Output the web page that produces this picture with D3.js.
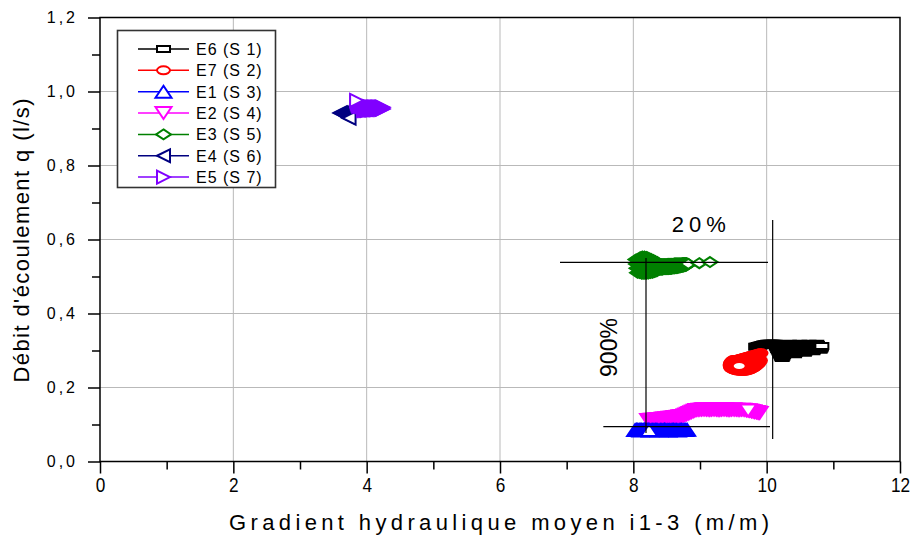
<!DOCTYPE html>
<html><head><meta charset="utf-8">
<script src="https://cdn.jsdelivr.net/npm/d3@7"></script>
<style>
body{margin:0;background:#fff}
svg{display:block;font-family:"Liberation Sans",Arial,sans-serif}
</style>
</head><body>
<svg id="chart" width="912" height="538"></svg>
<script>
// ---------- data ----------
const xTicks = [0, 2, 4, 6, 8, 10, 12];
const xMinorTicks = [1, 3, 5, 7, 9, 11];
const yTicks = [0, 0.2, 0.4, 0.6, 0.8, 1.0, 1.2];
const yMinorTicks = [0.1, 0.3, 0.5, 0.7, 0.9, 1.1];
const xTitle = "Gradient hydraulique moyen i1-3 (m/m)";
const yTitle = "Débit d'écoulement q (l/s)";
const seriesNames = ["E6 (S 1)", "E7 (S 2)", "E1 (S 3)", "E2 (S 4)", "E3 (S 5)", "E4 (S 6)", "E5 (S 7)"];

// E6 (S 1) : [gradient, débit]
const e6Points = [
 [9.835,0.310],[9.855,0.311],[9.875,0.312],[9.895,0.313],[9.915,0.314],[9.935,0.315],[9.955,0.316],[9.975,0.317],[9.995,0.317],[10.015,0.318],[10.035,0.318],[10.055,0.318],[10.075,0.318],[10.095,0.318],[10.115,0.318],
 [10.125,0.318],[10.135,0.315],[10.145,0.311],[10.154,0.308],[10.164,0.304],[10.174,0.301],[10.184,0.297],[10.194,0.294],[10.203,0.290],[10.213,0.287],[10.223,0.283],[10.233,0.280],
 [10.243,0.283],[10.252,0.287],[10.262,0.290],[10.272,0.294],[10.282,0.297],[10.292,0.301],[10.301,0.304],[10.311,0.308],[10.321,0.311],[10.331,0.315],[10.341,0.318],
 [10.350,0.315],[10.360,0.311],[10.370,0.308],[10.380,0.304],[10.390,0.301],[10.399,0.297],[10.409,0.294],[10.419,0.290],
 [10.429,0.294],[10.439,0.297],[10.448,0.301],[10.458,0.304],[10.468,0.308],[10.478,0.311],[10.488,0.315],[10.497,0.318],
 [10.507,0.315],[10.517,0.311],[10.527,0.308],[10.537,0.304],[10.546,0.301],[10.556,0.297],[10.566,0.294],
 [10.576,0.297],[10.586,0.301],[10.595,0.304],[10.605,0.308],[10.615,0.311],[10.625,0.315],[10.635,0.318],
 [10.644,0.315],[10.654,0.311],[10.664,0.308],[10.674,0.304],[10.684,0.301],[10.693,0.298],
 [10.703,0.301],[10.713,0.304],[10.723,0.308],[10.733,0.311],[10.742,0.315],[10.752,0.318],
 [10.762,0.315],[10.772,0.311],[10.782,0.308],[10.791,0.304],[10.801,0.302],
 [10.811,0.305],[10.821,0.308],[10.828,0.312]
];
// E7 (S 2)
const e7Points = [
 [9.916,0.293],[9.896,0.292],[9.876,0.291],[9.856,0.290],[9.836,0.289],[9.816,0.288],[9.796,0.287],[9.776,0.286],[9.756,0.285],[9.736,0.284],[9.716,0.283],[9.696,0.282],[9.676,0.281],[9.656,0.280],[9.636,0.279],[9.616,0.278],[9.596,0.277],[9.576,0.276],[9.556,0.275],[9.536,0.274],[9.516,0.274],[9.496,0.274],
 [9.477,0.271],[9.464,0.268],[9.456,0.265],[9.452,0.262],[9.452,0.259],[9.456,0.256],[9.464,0.253],[9.477,0.251],
 [9.497,0.249],[9.517,0.248],[9.537,0.247],[9.557,0.246],[9.577,0.246],[9.597,0.245],[9.617,0.245],[9.637,0.245],[9.657,0.245],[9.677,0.245],[9.697,0.246],[9.717,0.247],[9.737,0.248],[9.757,0.249],[9.777,0.251],[9.797,0.253],[9.817,0.255],[9.837,0.258],[9.857,0.261],[9.877,0.265],[9.894,0.269],[9.907,0.273],
 [9.887,0.277],[9.867,0.276],[9.847,0.275],[9.827,0.274],[9.807,0.273],[9.787,0.272],[9.767,0.271],[9.747,0.269],[9.727,0.268],[9.707,0.267],[9.687,0.265],[9.667,0.264],[9.647,0.263],[9.627,0.261],[9.607,0.260],[9.588,0.258]
];
// E1 (S 3)
const e1Points = [
 [8.807,0.086],[8.787,0.086],[8.767,0.085],[8.747,0.085],[8.727,0.086],[8.707,0.085],[8.687,0.085],[8.667,0.084],[8.647,0.085],[8.627,0.085],
 [8.607,0.086],[8.587,0.085],[8.567,0.085],[8.547,0.085],[8.527,0.084],[8.507,0.085],[8.487,0.085],[8.467,0.086],[8.447,0.085],[8.427,0.085],
 [8.407,0.085],[8.387,0.084],[8.367,0.085],[8.347,0.085],[8.327,0.086],[8.307,0.085],[8.287,0.085],[8.267,0.085],[8.247,0.084],[8.227,0.085],
 [8.207,0.085],[8.187,0.085],[8.167,0.086],[8.147,0.085],[8.127,0.085],[8.107,0.084],[8.087,0.085],[8.067,0.085],[8.047,0.085],[8.027,0.085],
 [8.047,0.085],[8.067,0.085],[8.087,0.085],[8.107,0.085],[8.127,0.085],[8.147,0.085],[8.167,0.085],[8.187,0.085],[8.207,0.085],[8.222,0.085],[8.237,0.085]
];
// E2 (S 4)
const e2Points = [
 [8.222,0.112],[8.247,0.112],[8.272,0.113],[8.297,0.113],[8.322,0.113],[8.347,0.114],[8.372,0.114],[8.397,0.115],[8.422,0.115],[8.447,0.116],[8.472,0.116],[8.497,0.117],[8.522,0.117],[8.547,0.118],[8.572,0.118],[8.597,0.119],[8.622,0.120],[8.647,0.120],[8.672,0.121],[8.697,0.122],[8.722,0.122],[8.747,0.123],
 [8.772,0.125],[8.797,0.127],[8.822,0.129],[8.847,0.131],[8.872,0.133],[8.897,0.135],[8.922,0.137],[8.947,0.139],
 [8.972,0.139],[8.997,0.140],[9.022,0.140],[9.047,0.141],[9.072,0.141],[9.097,0.140],[9.122,0.140],[9.147,0.139],[9.172,0.140],[9.197,0.141],[9.222,0.141],[9.247,0.140],[9.272,0.139],[9.297,0.139],[9.322,0.140],[9.347,0.141],[9.372,0.141],[9.397,0.140],[9.422,0.139],[9.447,0.139],[9.472,0.140],[9.497,0.141],[9.522,0.140],[9.547,0.140],[9.572,0.139],[9.597,0.139],[9.622,0.140],[9.647,0.140],[9.672,0.139],
 [9.697,0.138],[9.722,0.138],[9.747,0.137],[9.772,0.136],[9.797,0.135],[9.822,0.134],[9.847,0.133],[9.872,0.132],[9.895,0.131],
 [9.872,0.132],[9.847,0.133],[9.822,0.134],[9.797,0.135],[9.772,0.136],[9.747,0.137],[9.723,0.138]
];
// E3 (S 5)
const e3Points = [
 [8.040,0.546],[8.048,0.534],[8.056,0.522],[8.064,0.510],[8.072,0.548],[8.080,0.535],[8.088,0.522],[8.096,0.509],
 [8.104,0.552],[8.112,0.537],[8.120,0.522],[8.128,0.507],[8.136,0.554],[8.144,0.538],[8.152,0.522],[8.160,0.507],
 [8.168,0.554],[8.176,0.538],[8.184,0.522],[8.192,0.507],[8.200,0.553],[8.208,0.537],[8.216,0.522],[8.224,0.508],
 [8.232,0.550],[8.240,0.536],[8.248,0.522],[8.256,0.509],[8.264,0.548],[8.272,0.535],[8.280,0.522],[8.288,0.510],
 [8.296,0.545],[8.304,0.533],[8.312,0.522],[8.320,0.512],[8.328,0.542],[8.336,0.531],[8.344,0.522],[8.352,0.514],
 [8.360,0.539],[8.368,0.528],
 [8.374,0.533],[8.380,0.519],[8.386,0.533],[8.392,0.519],[8.398,0.533],[8.404,0.519],[8.410,0.533],[8.416,0.519],
 [8.422,0.533],[8.428,0.519],[8.434,0.533],[8.440,0.519],[8.446,0.533],[8.452,0.520],[8.458,0.533],[8.464,0.520],
 [8.470,0.533],[8.476,0.520],[8.482,0.533],[8.488,0.520],[8.494,0.533],[8.500,0.520],[8.506,0.533],[8.512,0.520],
 [8.518,0.534],[8.524,0.520],[8.530,0.534],[8.536,0.521],[8.542,0.534],[8.548,0.521],[8.554,0.534],[8.560,0.521],
 [8.566,0.534],[8.572,0.521],[8.578,0.534],[8.584,0.522],[8.590,0.534],[8.596,0.522],[8.602,0.534],[8.608,0.522],
 [8.614,0.535],[8.620,0.522],[8.626,0.535],[8.632,0.523],[8.638,0.535],[8.644,0.523],[8.650,0.535],[8.656,0.523],
 [8.662,0.535],[8.668,0.524],[8.674,0.535],[8.680,0.524],[8.686,0.535],[8.692,0.525],[8.698,0.535],[8.704,0.525],
 [8.710,0.535],[8.716,0.526],[8.722,0.535],[8.728,0.526],[8.734,0.536],[8.740,0.527],[8.746,0.536],[8.752,0.527],
 [8.758,0.536],[8.764,0.528],[8.770,0.536],[8.776,0.528],[8.782,0.536],[8.788,0.529],[8.794,0.536],[8.800,0.530],
 [8.806,0.535],[8.812,0.532],[8.818,0.534],[8.825,0.534],
 [8.990,0.536],[9.150,0.539]
];
// E4 (S 6)
const e4Points = [
 [3.600,0.942],[3.615,0.942],[3.630,0.941],[3.645,0.940],[3.660,0.938],[3.675,0.937],[3.690,0.935],[3.705,0.933],[3.720,0.931],[3.736,0.928]
];
// E5 (S 7)
const e5Points = [
 [3.950,0.949],[3.970,0.949],[3.990,0.949],[4.010,0.949],[4.030,0.950],[4.050,0.950],[4.070,0.950],[4.090,0.950],[4.110,0.951],[4.130,0.951],[4.150,0.951],[4.170,0.952],[4.190,0.952],[4.210,0.952],[4.230,0.952],
 [4.245,0.953],[4.245,0.956],[4.240,0.958],
 [4.220,0.958],[4.200,0.958],[4.180,0.958],[4.160,0.958],[4.140,0.958],[4.120,0.958],[4.100,0.958],[4.080,0.958],[4.060,0.958],[4.040,0.959],[4.020,0.959],[4.000,0.959],[3.980,0.959],[3.960,0.959],[3.940,0.960],[3.920,0.960],[3.900,0.960],[3.880,0.961],
 [3.872,0.964],[3.866,0.967],[3.860,0.970],[3.855,0.973],[3.849,0.976]
];

// guide lines drawn on the chart (data units)
const guideHorizontal = [[6.90, 10.02, 0.538], [7.55, 10.05, 0.094]];   // [x1, x2, y]
const guideVertical = [[8.19, 0.077, 0.550], [10.09, 0.061, 0.653]];     // [x, y1, y2]
const noteTexts = ["20%", "900%"];
const notePositions = [[9.02, 0.620], [7.757, 0.308]];

// ---------- setup ----------
const colors = ["#000000", "#ff0000", "#0000ff", "#ff00ff", "#008000", "#000080", "#8000ff"];
const shapeNames = ["square", "circle", "triangleUp", "triangleDown", "diamond", "triangleLeft", "triangleRight"];
const allPoints = [e6Points, e7Points, e1Points, e2Points, e3Points, e4Points, e5Points];
const series = seriesNames.map((n, i) => ({name: n, color: colors[i], shape: shapeNames[i], points: allPoints[i]}));
const drawOrder = [0, 1, 3, 2, 4, 5, 6];

const shapePaths = {
  square: "M-6.5,-3H6.5V3H-6.5Z",
  circle: "M-6.5,0A6.5,4 0 1,0 6.5,0A6.5,4 0 1,0 -6.5,0Z",
  triangleUp: "M0,-6L8,6H-8Z",
  triangleDown: "M0,6L8,-6H-8Z",
  diamond: "M0,-5L7.5,0L0,5L-7.5,0Z",
  triangleLeft: "M-6.5,0L6.5,-6.5V6.5Z",
  triangleRight: "M6.5,0L-6.5,-6.5V6.5Z"
};

const svg = d3.select("#chart");
const L = 100, R = 900, T = 17.5, B = 461.5;
const x = d3.scaleLinear().domain([0, 12]).range([L, R]);
const y = d3.scaleLinear().domain([0, 1.2]).range([B, T]);
const FONT = '"Liberation Sans", Arial, sans-serif';

svg.append("rect").attr("width", 912).attr("height", 538).attr("fill", "#fff");

// grid
const grid = svg.append("g").attr("stroke", "#b9b9b9").attr("stroke-width", 1);
grid.selectAll(".gx").data(xTicks.filter(d => d > 0 && d < 12)).join("line")
  .attr("x1", d => x(d)).attr("x2", d => x(d)).attr("y1", T).attr("y2", B);
grid.selectAll(".gy").data(yTicks.filter(d => d > 0 && d < 1.2)).join("line")
  .attr("y1", d => y(d)).attr("y2", d => y(d)).attr("x1", L).attr("x2", R);

// series markers: hollow (white) symbols; a symbol whose inside is hidden by a
// later, nearly coincident symbol is painted solid so dense runs render as one mass
drawOrder.forEach(i => {
  const s = series[i];
  const px = s.points.map(p => [x(p[0]), y(p[1])]);
  const hidden = px.map((p, k) => px.slice(k + 1).some(q => Math.hypot(q[0] - p[0], q[1] - p[1]) < 4));
  svg.append("g").selectAll("path").data(s.points).join("path")
    .attr("d", shapePaths[s.shape])
    .attr("transform", d => `translate(${x(d[0])},${y(d[1])})`)
    .attr("fill", (d, k) => hidden[k] ? s.color : "#fff")
    .attr("stroke", s.color).attr("stroke-width", 2)
    .attr("stroke-linejoin", "miter");
});

// guide lines
const guides = svg.append("g").attr("stroke", "#000").attr("stroke-width", 1.2);
guides.selectAll(".h").data(guideHorizontal).join("line")
  .attr("x1", d => x(d[0])).attr("x2", d => x(d[1])).attr("y1", d => y(d[2])).attr("y2", d => y(d[2]));
guides.selectAll(".v").data(guideVertical).join("line")
  .attr("x1", d => x(d[0])).attr("x2", d => x(d[0])).attr("y1", d => y(d[1])).attr("y2", d => y(d[2]));

svg.append("text").text(noteTexts[0])
  .attr("x", x(notePositions[0][0])).attr("y", y(notePositions[0][1]))
  .attr("text-anchor", "middle").attr("font-size", 22).attr("letter-spacing", 5)
  .attr("font-family", FONT).attr("fill", "#000");
svg.append("text").text(noteTexts[1])
  .attr("transform", `translate(${x(notePositions[1][0])},${y(notePositions[1][1])}) rotate(-90)`)
  .attr("text-anchor", "middle").attr("font-size", 23)
  .attr("font-family", FONT).attr("fill", "#000");

// frame
svg.append("rect").attr("x", L).attr("y", T).attr("width", R - L).attr("height", B - T)
  .attr("fill", "none").attr("stroke", "#000").attr("stroke-width", 1.5);

// axes
function styleAxis(g) {
  g.attr("font-family", null).attr("font-size", null);
  g.select(".domain").remove();
  g.selectAll("line").attr("stroke", "#000").attr("stroke-width", 1.5);
}
const xAxis = svg.append("g").attr("transform", `translate(0,${B})`)
  .call(d3.axisBottom(x).tickValues(xTicks).tickSize(12).tickPadding(4).tickFormat(d => String(d)));
styleAxis(xAxis);
xAxis.selectAll("text").attr("font-family", FONT).attr("font-size", 21).attr("fill", "#000")
  .attr("transform", "scale(0.82,1)");
const xMinor = svg.append("g").attr("transform", `translate(0,${B})`)
  .call(d3.axisBottom(x).tickValues(xMinorTicks).tickSize(8).tickFormat(""));
styleAxis(xMinor);

const yAxis = svg.append("g").attr("transform", `translate(${L},0)`)
  .call(d3.axisLeft(y).tickValues(yTicks).tickSize(12).tickPadding(10)
    .tickFormat(d => d.toFixed(1).replace(".", ",")));
styleAxis(yAxis);
yAxis.selectAll("text").attr("font-family", FONT).attr("font-size", 16).attr("fill", "#000")
  .attr("letter-spacing", 3);
const yMinor = svg.append("g").attr("transform", `translate(${L},0)`)
  .call(d3.axisLeft(y).tickValues(yMinorTicks).tickSize(8).tickFormat(""));
styleAxis(yMinor);

// axis titles
svg.append("text").text(xTitle)
  .attr("x", (L + R) / 2 - 1).attr("y", 530).attr("text-anchor", "middle")
  .attr("font-family", FONT).attr("font-size", 22).attr("fill", "#000")
  .attr("textLength", 540).attr("lengthAdjust", "spacing");
svg.append("text").text(yTitle)
  .attr("transform", `translate(29,${(T + B) / 2 + 1}) rotate(-90)`).attr("text-anchor", "middle")
  .attr("font-family", FONT).attr("font-size", 22).attr("fill", "#000")
  .attr("textLength", 284).attr("lengthAdjust", "spacing");

// legend
const lg = svg.append("g");
lg.append("rect").attr("x", 117.5).attr("y", 30.5).attr("width", 158).attr("height", 157)
  .attr("fill", "#fff").attr("stroke", "#333").attr("stroke-width", 1.6);
series.forEach((s, i) => {
  const ry = 49 + i * 21.35;
  const row = lg.append("g").attr("transform", `translate(0,${ry})`);
  row.append("line").attr("x1", 138).attr("x2", 189).attr("y1", 0).attr("y2", 0)
    .attr("stroke", s.color).attr("stroke-width", 1.5);
  row.append("path").attr("d", shapePaths[s.shape]).attr("transform", "translate(163.5,0)")
    .attr("fill", "#fff").attr("stroke", s.color).attr("stroke-width", 2);
  row.append("text").text(s.name).attr("x", 196).attr("y", 5.8)
    .attr("font-family", FONT).attr("font-size", 16).attr("letter-spacing", 1).attr("fill", "#000");
});
</script>
</body></html>
